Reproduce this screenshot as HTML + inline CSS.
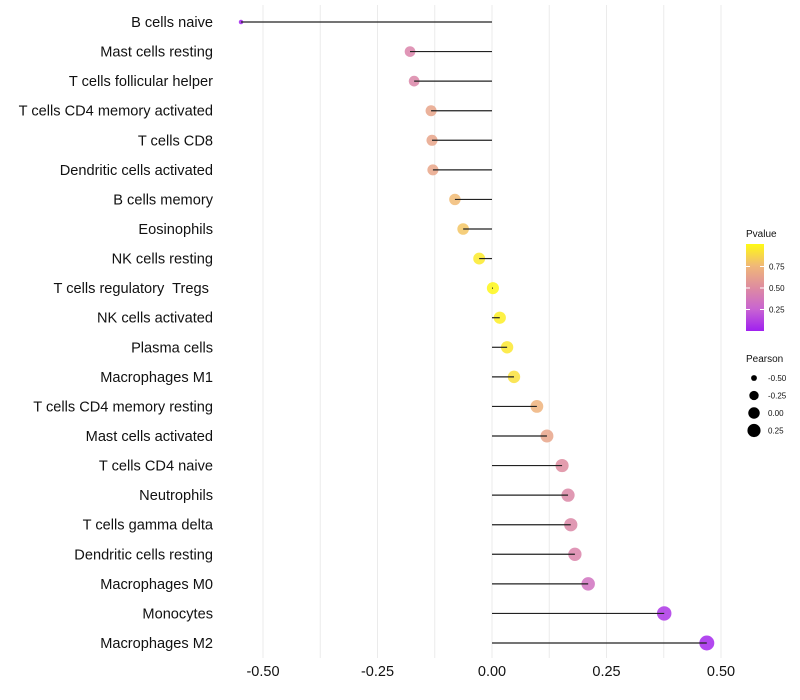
<!DOCTYPE html>
<html><head><meta charset="utf-8"><style>
html,body{margin:0;padding:0;background:#fff;}
svg{display:block;font-family:"Liberation Sans",Arial,sans-serif;}
text{white-space:pre;}
</style></head><body>
<svg id="chart" width="800" height="700">
<g id="grid"></g>
<g id="ylabels"></g>
<g id="xlabels"></g>
<g id="marks"></g>
<g id="legend"></g>
</svg>
<script>
const categories = ["B cells naive","Mast cells resting","T cells follicular helper","T cells CD4 memory activated","T cells CD8","Dendritic cells activated","B cells memory","Eosinophils","NK cells resting","T cells regulatory  Tregs ","NK cells activated","Plasma cells","Macrophages M1","T cells CD4 memory resting","Mast cells activated","T cells CD4 naive","Neutrophils","T cells gamma delta","Dendritic cells resting","Macrophages M0","Monocytes","Macrophages M2"];
const pearson = [-0.548,-0.179,-0.170,-0.133,-0.131,-0.129,-0.081,-0.063,-0.028,0.002,0.017,0.033,0.048,0.098,0.120,0.153,0.166,0.172,0.181,0.210,0.376,0.469];
const pvalue = [0.01,0.45,0.46,0.64,0.64,0.65,0.76,0.80,0.94,0.99,0.96,0.93,0.90,0.72,0.64,0.50,0.47,0.47,0.45,0.34,0.08,0.03];
const xTicks = [-0.5,-0.25,0,0.25,0.5];
const xTickLabels = ["-0.50","-0.25","0.00","0.25","0.50"];
const pTicks = [0.25,0.5,0.75];
const sizeBreaks = [-0.5,-0.25,0,0.25];

const NS="http://www.w3.org/2000/svg";
function mk(tag,attrs,parent){const e=document.createElementNS(NS,tag);for(const k in attrs)e.setAttribute(k,attrs[k]);parent.appendChild(e);return e;}
const xS=v=>492+v*458;
const yS=i=>22+i*((643-22)/(categories.length-1));
const rS=v=>2+5.5*Math.sqrt(Math.max(0,(v+0.55)/1.02));
const stops=[[0,[160,32,240]],[0.25,[200,100,210]],[0.5,[222,140,160]],[0.75,[240,184,120]],[1,[255,250,20]]];
function col(p){p=Math.max(0,Math.min(1,p));for(let i=1;i<stops.length;i++){if(p<=stops[i][0]){const a=stops[i-1],b=stops[i];const t=(p-a[0])/(b[0]-a[0]);const c=a[1].map((x,j)=>Math.round(x+(b[1][j]-x)*t));return `rgb(${c.join(',')})`;}}return 'rgb(255,250,20)';}

const grid=document.getElementById('grid');
for(let v=-0.5;v<=0.5001;v+=0.125){
  const l=mk('line',{x1:xS(v),x2:xS(v),y1:5,y2:658,stroke:'#ebebeb','stroke-width':1},grid);
  
  
}
const xl=document.getElementById('xlabels');
xTicks.forEach((v,i)=>{
  const t=mk('text',{x:xS(v),y:676,'text-anchor':'middle','font-size':14.5,fill:'#111'},xl);
  t.textContent=xTickLabels[i];
  
  
});
const yl=document.getElementById('ylabels');
const mg=document.getElementById('marks');
categories.forEach((c,i)=>{
  const y=yS(i);
  const t=mk('text',{x:213,y:y+5,'text-anchor':'end','font-size':14.6,fill:'#111'},yl);
  t.textContent=c;
  
  
  const p=mk('circle',{cx:xS(pearson[i]),cy:y,r:rS(pearson[i]),fill:col(pvalue[i]),'fill-opacity':0.85},mg);
  
  
  const s=mk('line',{x1:xS(0),x2:xS(pearson[i]),y1:y,y2:y,stroke:'#222','stroke-width':1.2},mg);
  
  
});
const lg=document.getElementById('legend');
const t1=mk('text',{x:746,y:237,'font-size':10,fill:'#111'},lg);t1.textContent='Pvalue';


const defs=mk('defs',{},lg);
const gr=mk('linearGradient',{id:'pg',x1:0,y1:1,x2:0,y2:0},defs);
stops.forEach(s=>mk('stop',{offset:s[0],'stop-color':`rgb(${s[1].join(',')})`},gr));
const bar=mk('rect',{x:746,y:244,width:18,height:87,fill:'url(#pg)'},lg);


const pY=p=>331-p*86;
pTicks.forEach(p=>{
  mk('line',{x1:746,x2:750,y1:pY(p),y2:pY(p),stroke:'#fff','stroke-width':1},lg);
  mk('line',{x1:760,x2:764,y1:pY(p),y2:pY(p),stroke:'#fff','stroke-width':1},lg);
  const t=mk('text',{x:769,y:pY(p)+3,'font-size':8,fill:'#111'},lg);t.textContent=p.toFixed(2);
  
  
});
const t2=mk('text',{x:746,y:362,'font-size':10,fill:'#111'},lg);t2.textContent='Pearson';


sizeBreaks.forEach((v,i)=>{
  const y=378+i*17.5;
  const c=mk('circle',{cx:754,cy:y,r:rS(v)-0.3,fill:'#000'},lg);
  
  
  const t=mk('text',{x:768,y:y+3,'font-size':8,fill:'#111'},lg);t.textContent=v.toFixed(2);
  
  
});
</script>
</body></html>
